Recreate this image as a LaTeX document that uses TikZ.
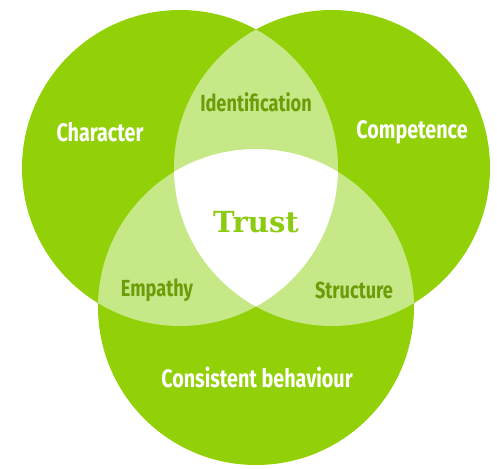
\documentclass[tikz,border=0pt]{standalone}
\usepackage{fontspec}
\usepackage{tikz}
\usetikzlibrary{positioning}
\newfontfamily\labelfont{Fira Sans}[FakeStretch=0.78]
\newfontfamily\slabfont{DejaVu Serif}
\definecolor{vennbright}{HTML}{92D108}
\definecolor{vennpale}{HTML}{C7E886}
\definecolor{venndark}{HTML}{6C9C0A}
\definecolor{trustgreen}{HTML}{8DCB10}

\tikzset{
  outer/.style={text=white, font=\labelfont\bfseries\fontsize{25.3}{27}\selectfont},
  inner/.style={text=venndark, font=\labelfont\bfseries\fontsize{23.3}{25}\selectfont},
}

\begin{document}
\begin{tikzpicture}[x=1pt,y=-1pt]
\useasboundingbox (0,0) rectangle (497,468);
\def\rad{158pt}
\coordinate (char) at (180,168);
\coordinate (comp) at (332,168);
\coordinate (cons) at (256,307);

% the three circles
\fill[vennbright] (char) circle[radius=\rad];
\fill[vennbright] (comp) circle[radius=\rad];
\fill[vennbright] (cons) circle[radius=\rad];

% pairwise overlaps
\begin{scope}
  \clip (char) circle[radius=\rad];
  \fill[vennpale] (comp) circle[radius=\rad];
  \fill[vennpale] (cons) circle[radius=\rad];
\end{scope}
\begin{scope}
  \clip (comp) circle[radius=\rad];
  \fill[vennpale] (cons) circle[radius=\rad];
\end{scope}

% centre where all three meet
\begin{scope}
  \clip (char) circle[radius=\rad];
  \clip (comp) circle[radius=\rad];
  \fill[white] (cons) circle[radius=\rad];
\end{scope}

\node[outer] (character) at (100,132) {Character};
\node[outer] (competence) at (412,132) {Competence};
\node[outer] (behaviour) at (257,377) {Consistent behaviour};
\node[inner] (identification) at (256,102) {Identification};
\node[inner] (empathy) at (157,290) {Empathy};
\node[inner] (structure) at (354,290) {Structure};
\node[text=trustgreen, font=\slabfont\bfseries\fontsize{29}{31}\selectfont] (trust) at (256,222) {Trust};
\end{tikzpicture}
\end{document}
